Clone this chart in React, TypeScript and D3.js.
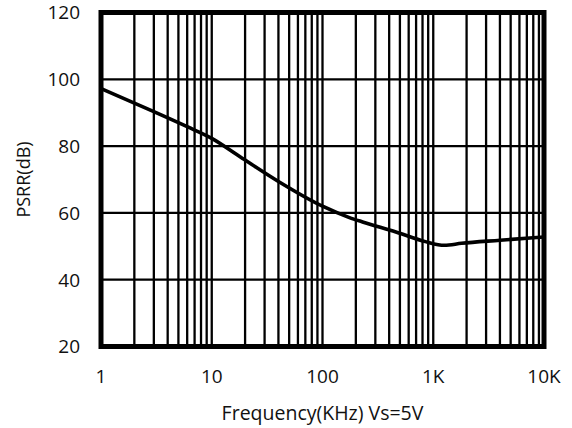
import { useMemo } from 'react';
import * as d3 from 'd3';

const freqKHz = [1, 3, 6, 10, 18, 40, 100, 175, 230, 460, 850, 1260, 1800, 4000, 10000];
const psrrDb = [97.2, 90.3, 85.8, 82.3, 76.8, 69.4, 62, 58.6, 57.3, 54.3, 51.4, 50.3, 50.9, 51.8, 52.8];

const xTicks = [1, 10, 100, 1000, 10000];
const xTickLabels = ['1', '10', '100', '1K', '10K'];
const yTicks = [20, 40, 60, 80, 100, 120];

const width = 572;
const height = 428;
const margin = { top: 12.5, right: 28, bottom: 81.5, left: 101 };
const font = '"Open Sans", sans-serif';

export default function App() {
  const x = useMemo(
    () => d3.scaleLog().domain([1, 10000]).range([margin.left, width - margin.right]),
    []
  );
  const y = useMemo(
    () => d3.scaleLinear().domain([20, 120]).range([height - margin.bottom, margin.top]),
    []
  );

  // minor + major vertical grid: 2..9 in every decade, plus decade lines
  const vLines: number[] = [];
  for (let d = 1; d < 10000; d *= 10) {
    for (let k = 1; k < 10; k++) {
      if (d * k > 1) vLines.push(d * k);
    }
  }

  const line = d3
    .line<number>()
    .x((_, i) => x(freqKHz[i]))
    .y((d) => y(d))
    .curve(d3.curveMonotoneX);

  const [x0, x1] = x.range();
  const [y0, y1] = y.range();

  return (
    <svg
      width={width}
      height={height}
      style={{ position: 'absolute', left: 0, top: 0, background: '#fff' }}
    >
      {vLines.map((v) => (
        <line key={v} x1={x(v)} x2={x(v)} y1={y1} y2={y0} stroke="#000" strokeWidth={2.3} />
      ))}
      {yTicks.slice(1, -1).map((t) => (
        <line key={t} x1={x0} x2={x1} y1={y(t)} y2={y(t)} stroke="#000" strokeWidth={2.3} />
      ))}
      <path d={line(psrrDb) ?? ''} fill="none" stroke="#000" strokeWidth={3.6} />
      <rect
        x={x0}
        y={y1}
        width={x1 - x0}
        height={y0 - y1}
        fill="none"
        stroke="#000"
        strokeWidth={5}
      />
      {yTicks.map((t) => (
        <text
          key={t}
          x={80}
          y={y(t)}
          dy="0.36em"
          textAnchor="end"
          fontFamily={font}
          fontSize={19}
          fill="#111"
        >
          {t}
        </text>
      ))}
      {xTicks.map((t, i) => (
        <text
          key={t}
          x={x(t)}
          y={383}
          textAnchor="middle"
          fontFamily={font}
          fontSize={19}
          fill="#111"
        >
          {xTickLabels[i]}
        </text>
      ))}
      <text
        x={(x0 + x1) / 2}
        y={420}
        textAnchor="middle"
        fontFamily={font}
        fontSize={19.5}
        fill="#111"
      >
        Frequency(KHz) Vs=5V
      </text>
      <text
        transform={`translate(30, ${(y0 + y1) / 2}) rotate(-90)`}
        textAnchor="middle"
        fontFamily={font}
        fontSize={18}
        fill="#111"
      >
        PSRR(dB)
      </text>
    </svg>
  );
}
